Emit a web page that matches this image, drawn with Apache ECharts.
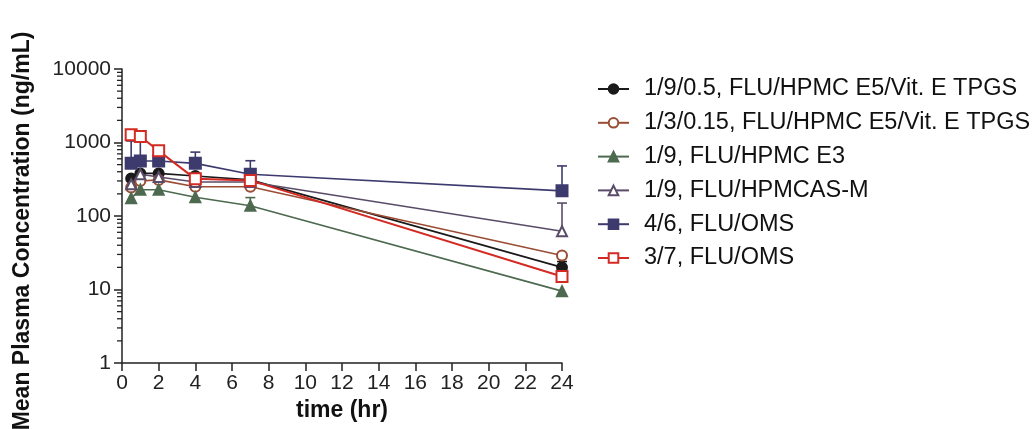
<!DOCTYPE html>
<html>
<head>
<meta charset="utf-8">
<script src="https://cdn.jsdelivr.net/npm/echarts@6/dist/echarts.min.js"></script>
<style>
  html, body { margin: 0; padding: 0; background: #fff; }
  #chart { width: 1033px; height: 429px; }
</style>
</head>
<body>
<div id="chart"></div>
<script>
// sampling times (hr)
const times = [0.5, 1, 2, 4, 7, 24]
const xTickLabels = ['0', '2', '4', '6', '8', '10', '12', '14', '16', '18', '20', '22', '24']
const yTickLabels = ['1', '10', '100', '1000', '10000']

// mean plasma concentration (ng/mL)
const names = [
  '1/9/0.5, FLU/HPMC E5/Vit. E TPGS',
  '1/3/0.15, FLU/HPMC E5/Vit. E TPGS',
  '1/9, FLU/HPMC E3',
  '1/9, FLU/HPMCAS-M',
  '4/6, FLU/OMS',
  '3/7, FLU/OMS',
]
const tpgs19 = [325, 380, 380, 350, 310, 20]
const tpgs13 = [245, 300, 310, 250, 250, 29]
const hpmcE3 = [175, 228, 228, 180, 138, 9.5]
const hpmcas = [270, 370, 340, 290, 290, 62]
const oms46 = [520, 560, 560, 520, 370, 220]
const oms37 = [1270, 1210, 770, 320, 305, 15]

// upper ends of the error bars (null = none visible)
const tpgs19Up = [null, null, null, null, null, 24]
const hpmcE3Up = [null, null, null, null, 178, null]
const hpmcasUp = [null, null, null, null, null, 150]
const oms46Up = [1050, 1100, null, 740, 565, 480]

const colors = ['#1a1a1a', '#9a4c34', '#4d6a50', '#5a4c68', '#3d3b6e', '#d42a24']
const symbols = ['circle', 'emptyCircle', 'triangle', 'emptyTriangle', 'rect', 'emptyRect']
const values = [tpgs19, tpgs13, hpmcE3, hpmcas, oms46, oms37]

const pair = (ys) => times.map((t, i) => [t, ys[i]])

const lineSeries = values.map((ys, i) => ({
  name: names[i],
  type: 'line',
  data: pair(ys),
  symbol: symbols[i],
  symbolSize: i >= 4 ? 11 : 10,
  color: colors[i],
  lineStyle: { width: i === 5 ? 2 : 1.6, color: colors[i] },
  itemStyle: { color: colors[i], borderColor: colors[i], borderWidth: 2 },
  z: 3 + i,
}))

const errorSeries = (ys, ups, color) => ({
  type: 'custom',
  data: times.map((t, i) => [t, ys[i], ups[i]]).filter((d) => d[2] != null),
  z: 2,
  silent: true,
  renderItem(params, api) {
    const lo = api.coord([api.value(0), api.value(1)])
    const hi = api.coord([api.value(0), api.value(2)])
    const style = { stroke: color, lineWidth: 1.6 }
    return {
      type: 'group',
      children: [
        { type: 'line', shape: { x1: lo[0], y1: lo[1], x2: hi[0], y2: hi[1] }, style },
        { type: 'line', shape: { x1: hi[0] - 5, y1: hi[1], x2: hi[0] + 5, y2: hi[1] }, style },
      ],
    }
  },
})

// log-spaced minor ticks on the y axis
const minorTicks = []
for (let d = 1; d < 10000; d *= 10) {
  for (let k = 2; k <= 9; k += 1) minorTicks.push([0, d * k])
}

const minorTickSeries = {
  type: 'custom',
  data: minorTicks,
  silent: true,
  clip: false,
  renderItem(params, api) {
    const p = api.coord([api.value(0), api.value(1)])
    return {
      type: 'line',
      shape: { x1: p[0] - 5, y1: p[1], x2: p[0], y2: p[1] },
      style: { stroke: '#222', lineWidth: 1.3 },
    }
  },
}

const baseAxis = {
  axisLine: { show: true, lineStyle: { color: '#222', width: 1.5 } },
  axisTick: { show: true, length: 8, lineStyle: { color: '#222', width: 1.5 } },
  splitLine: { show: false },
  nameLocation: 'middle',
}
const nameFont = { fontFamily: 'Liberation Sans', fontWeight: 'bold', fontSize: 23, color: '#111' }

const chart = echarts.init(document.getElementById('chart'))
chart.setOption({
  backgroundColor: '#fff',
  animation: false,
  textStyle: { fontFamily: 'Liberation Sans' },
  grid: { left: 122, right: 471, top: 69, bottom: 66, outerBoundsMode: 'none' },
  legend: {
    data: names,
    orient: 'vertical',
    left: 592,
    top: 72,
    itemWidth: 31,
    itemHeight: 12,
    itemGap: 9.8,
    textStyle: { fontSize: 23.5, lineHeight: 22, color: '#111', padding: [0, 0, 0, 10] },
  },
  xAxis: {
    type: 'value',
    min: 0,
    max: 24,
    interval: 2,
    name: 'time (hr)',
    nameGap: 36,
    ...baseAxis,
    nameTextStyle: nameFont,
    axisLabel: {
      fontSize: 21,
      color: '#222',
      margin: 10,
      formatter: (v) => xTickLabels[Math.round(v / 2)],
    },
  },
  yAxis: {
    type: 'log',
    logBase: 10,
    min: 1,
    max: 10000,
    name: 'Mean Plasma Concentration (ng/mL)',
    nameGap: 88,
    ...baseAxis,
    nameTextStyle: { ...nameFont, padding: [0, 30, 0, 0] },
    axisLabel: {
      fontSize: 21,
      color: '#222',
      margin: 11,
      formatter: (v) => yTickLabels[Math.round(Math.log10(v))],
    },
  },
  series: [
    minorTickSeries,
    errorSeries(tpgs19, tpgs19Up, colors[0]),
    errorSeries(hpmcE3, hpmcE3Up, colors[2]),
    errorSeries(hpmcas, hpmcasUp, colors[3]),
    errorSeries(oms46, oms46Up, colors[4]),
    ...lineSeries,
  ],
})
</script>
</body>
</html>
